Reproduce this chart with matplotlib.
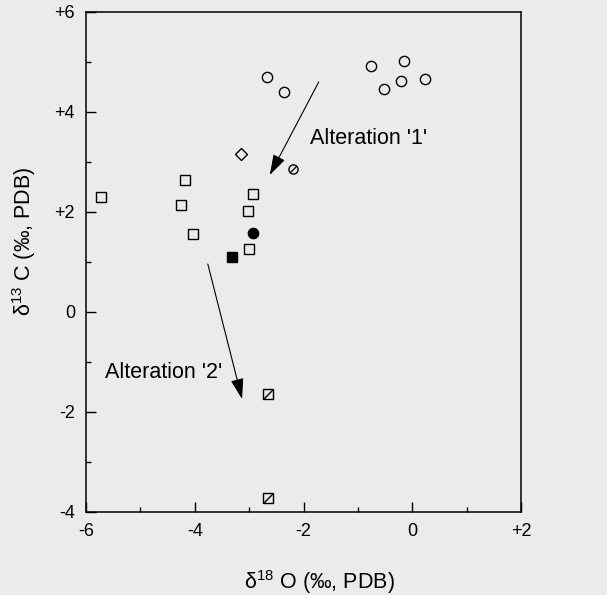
import numpy as np
import matplotlib
matplotlib.use('Agg')
import matplotlib.pyplot as plt
from matplotlib.ticker import MultipleLocator

plt.rcParams['font.family'] = ['Liberation Sans', 'DejaVu Sans']
plt.rcParams['mathtext.fontset'] = 'custom'
plt.rcParams['mathtext.rm'] = 'Liberation Sans'
plt.rcParams['mathtext.it'] = 'Liberation Sans:italic'

# data (d18O, d13C)
circ_x = [-2.67, -2.36, -0.76, -0.15, -0.52, -0.21, 0.23]
circ_y = [4.70, 4.40, 4.92, 5.02, 4.46, 4.62, 4.66]

sq_x = [-5.72, -4.18, -4.25, -4.03, -2.93, -3.02, -3.00]
sq_y = [2.30, 2.64, 2.14, 1.56, 2.36, 2.02, 1.26]

diam_x = [-3.15]
diam_y = [3.16]

hcirc_x = [-2.19]
hcirc_y = [2.86]

fcirc_x = [-2.93]
fcirc_y = [1.58]

fsq_x = [-3.32]
fsq_y = [1.10]

hsq_x = [-2.65, -2.65]
hsq_y = [-1.64, -3.72]

# arrows: (start, end)
arrow1 = ((-1.72, 4.60), (-2.62, 2.74))
arrow2 = ((-3.76, 0.96), (-3.13, -1.74))

xticks = [-6, -4, -2, 0, 2]
xticklabels = ['-6', '-4', '-2', '0', '+2']
yticks = [-4, -2, 0, 2, 4, 6]
yticklabels = ['-4', '-2', '0', '+2', '+4', '+6']

bg = '#ebebeb'
fig = plt.figure(figsize=(6.07, 5.95), dpi=100, facecolor=bg)
ax = fig.add_axes([86/607, 1-512/595, 435/607, 500/595], facecolor=bg)

ms = 7.0
mk = dict(linestyle='none', markeredgecolor='black', markeredgewidth=1.0)
ax.plot(circ_x, circ_y, marker='o', markersize=7.4, markerfacecolor='none', **mk)
ax.plot(sq_x, sq_y, marker='s', markersize=ms, markerfacecolor='none', **mk)
ax.plot(diam_x, diam_y, marker='D', markersize=6.4, markerfacecolor='none', **mk)
ax.plot(hcirc_x, hcirc_y, marker='o', markersize=6.6, markerfacecolor='none', **mk)
ax.plot(hcirc_x, hcirc_y, marker=[(-1, -1), (1, 1)], markersize=4.4, markerfacecolor='none', **mk)
ax.plot(fcirc_x, fcirc_y, marker='o', markersize=7.4, markerfacecolor='black', **mk)
ax.plot(fsq_x, fsq_y, marker='s', markersize=ms, markerfacecolor='black', **mk)
ax.plot(hsq_x, hsq_y, marker='s', markersize=ms, markerfacecolor='none', **mk)
ax.plot(hsq_x, hsq_y, marker=[(-1, -1), (1, 1)], markersize=ms, markerfacecolor='none', **mk)

aprops = dict(arrowstyle='-|>,head_length=0.7,head_width=0.22', color='black',
              lw=0.8, mutation_scale=18, shrinkA=0, shrinkB=0)
for (s, e) in [arrow1, arrow2]:
    ax.annotate('', xy=e, xytext=s, arrowprops=aprops)

ax.text(-1.88, 3.46, "Alteration '1'", fontsize=15.5, va='center', ha='left')
ax.text(-5.65, -1.20, "Alteration '2'", fontsize=15.5, va='center', ha='left')

ax.set_xlim(-6, 2)
ax.set_ylim(-4, 6)
ax.set_xticks(xticks)
ax.set_xticklabels(xticklabels)
ax.set_yticks(yticks)
ax.set_yticklabels(yticklabels)
ax.xaxis.set_minor_locator(MultipleLocator(1))
ax.yaxis.set_minor_locator(MultipleLocator(1))
ax.tick_params(which='major', direction='in', length=7, width=1, labelsize=13, pad=8)
ax.tick_params(which='minor', direction='in', length=3.5, width=1)
for sp in ax.spines.values():
    sp.set_linewidth(1.1)

fig.text(319/607, 1-582/595, 'δ$^{18}$ O (‰, PDB)', fontsize=15.5, ha='center', va='center')
fig.text(24/607, 1-241/595, 'δ$^{13}$ C (‰, PDB)', fontsize=15.5, ha='center', va='center',
         rotation=90)

fig.savefig('out.png', dpi=100, facecolor=bg)
